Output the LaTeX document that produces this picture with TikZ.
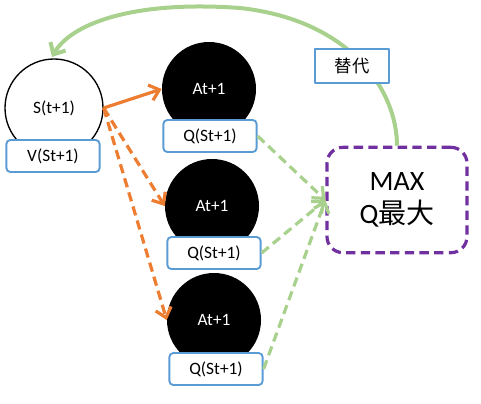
\documentclass[tikz,border=0pt]{standalone}
\usepackage{fontspec}
\setmainfont{Carlito}
\newfontfamily\cjk{Noto Sans CJK SC}
\usetikzlibrary{arrows.meta}
\definecolor{boxblue}{HTML}{5B9BD5}
\definecolor{maxpurple}{HTML}{7030A0}
\definecolor{actorange}{HTML}{ED7D31}
\definecolor{qgreen}{HTML}{A9D18E}
\tikzset{
	statecirc/.style={circle, draw=black, line width=1pt, fill=white, minimum size=73.5pt, inner sep=0pt},
	actcirc/.style={circle, fill=black, text=white, minimum size=70.5pt, inner sep=0pt},
	valbox/.style={rectangle, rounded corners=3pt, draw=boxblue, line width=1.4pt, fill=white, minimum width=70pt, minimum height=24pt, inner sep=0pt},
	maxbox/.style={rectangle, rounded corners=12pt, draw=maxpurple, line width=2.4pt, dash pattern=on 7pt off 4pt, fill=white, minimum width=105pt, minimum height=79pt, align=center, font=\fontsize{21}{25}\selectfont},
	labbox/.style={rectangle, draw=boxblue, line width=1.4pt, fill=white, minimum width=55pt, minimum height=26pt, inner sep=0pt, font=\cjk\fontsize{13}{15}\selectfont},
	actarrow/.style={draw=actorange, line width=2.4pt, -{Straight Barb[length=7pt,width=12pt]}},
	qarrow/.style={draw=qgreen, line width=2.4pt, dash pattern=on 7pt off 4pt, -{Straight Barb[length=7pt,width=12pt]}}
}
\begin{document}
\begin{tikzpicture}[x=0.75pt, y=-0.75pt, font=\fontsize{13}{15}\selectfont, line join=round]
	\useasboundingbox (0,0) rectangle (481,403);
	% state and actions
	\node[statecirc] (s) at (54,108) {S(t+1)};
	\node[actcirc] (a1) at (209,89) {At+1};
	\node[actcirc] (a2) at (212,206) {At+1};
	\node[actcirc] (a3) at (214,320) {At+1};
	% value boxes
	\node[valbox] (v) at (53,156) {V(St+1)};
	\node[valbox] (q1) at (210,136) {Q(St+1)};
	\node[valbox] (q2) at (214,253) {Q(St+1)};
	\node[valbox] (q3) at (216,369) {Q(St+1)};
	\node[maxbox] (max) at (397,200) {MAX\\Q{\cjk 最大}};
	% replace loop
	\draw[qgreen, line width=3pt, -{Straight Barb[length=7pt,width=13pt]}] (max.north) .. controls (397,90) and (350,20) .. (240,8) .. controls (130,0) and (70,25) .. (52,57);
	\node[labbox] (rep) at (352,66) {替代};
	% actions
	\draw[actarrow] (s.east) -- (a1.west);
	\draw[actarrow, dash pattern=on 7pt off 4pt] (s.east) -- (a2.west);
	\draw[actarrow, dash pattern=on 7pt off 4pt] (s.east) -- (a3.west);
	% to max
	\draw[qarrow] (q1.east) -- (max.west);
	\draw[qarrow] (q2.east) -- (max.west);
	\draw[qarrow] (q3.east) -- (max.west);
\end{tikzpicture}
\end{document}
